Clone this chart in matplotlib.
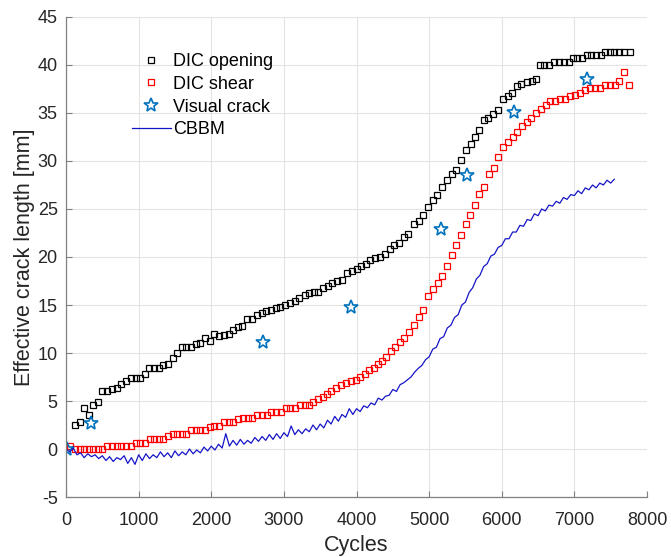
import numpy as np
import matplotlib.pyplot as plt
plt.switch_backend('agg')

plt.rcParams['font.family'] = ['Liberation Sans', 'DejaVu Sans']
plt.rcParams['axes.unicode_minus'] = False

# DIC crack opening measurements
open_cycles = [120, 189, 248, 317, 377, 446, 501, 565, 634, 698,
               763, 827, 891, 960, 1024, 1088, 1143, 1207, 1276, 1341,
               1405, 1470, 1529, 1594, 1658, 1727, 1786, 1850, 1915, 1979,
               2044, 2108, 2172, 2241, 2300, 2365, 2430, 2494, 2559, 2623,
               2692, 2760, 2825, 2889, 2953, 3017, 3082, 3150, 3215, 3284,
               3348, 3412, 3476, 3540, 3605, 3669, 3733, 3798, 3870, 3935,
               4000, 4064, 4128, 4192, 4257, 4321, 4394, 4458, 4522, 4587,
               4651, 4706, 4789, 4862, 4917, 4986, 5047, 5110, 5184, 5248,
               5317, 5377, 5437, 5506, 5570, 5630, 5689, 5758, 5813, 5882,
               5950, 6011, 6080, 6143, 6204, 6272, 6342, 6410, 6470, 6525,
               6580, 6645, 6722, 6786, 6855, 6924, 6975, 7040, 7108, 7168,
               7235, 7300, 7365, 7420, 7485, 7550, 7620, 7690, 7765]
open_len = [2.5, 2.8, 4.3, 3.5, 4.6, 4.9, 6.0, 6.0, 6.3, 6.4,
            6.8, 7.1, 7.4, 7.4, 7.4, 7.8, 8.4, 8.4, 8.4, 8.8,
            8.9, 9.5, 10.0, 10.6, 10.6, 10.6, 10.9, 11.0, 11.6, 11.3,
            12.0, 11.8, 11.9, 12.0, 12.4, 12.7, 12.8, 13.5, 13.5, 14.0,
            14.2, 14.4, 14.5, 14.7, 14.8, 15.0, 15.2, 15.4, 15.7, 16.0,
            16.2, 16.4, 16.4, 16.8, 17.0, 17.3, 17.5, 17.6, 18.3, 18.5,
            18.75, 19.1, 19.3, 19.7, 19.9, 20.0, 20.3, 20.8, 21.2, 21.5,
            22.1, 22.4, 23.4, 23.7, 24.4, 25.2, 25.9, 26.5, 27.3, 28.0,
            28.6, 29.1, 30.1, 31.1, 31.8, 32.5, 33.2, 34.3, 34.5, 34.9,
            35.3, 36.5, 36.8, 37.1, 37.8, 38.0, 38.2, 38.3, 38.5, 40.0,
            40.0, 40.0, 40.3, 40.3, 40.3, 40.3, 40.7, 40.7, 40.7, 41.0,
            41.0, 41.0, 41.0, 41.4, 41.4, 41.4, 41.4, 41.4, 41.4]

# DIC shear measurements
shear_cycles = [51, 120, 189, 253, 317, 377, 446, 501, 565, 634,
                698, 763, 827, 891, 960, 1024, 1088, 1153, 1212, 1276,
                1341, 1405, 1470, 1529, 1594, 1658, 1727, 1786, 1850, 1915,
                1979, 2044, 2108, 2172, 2241, 2300, 2365, 2438, 2500, 2565,
                2631, 2700, 2765, 2829, 2895, 2960, 3026, 3090, 3155, 3219,
                3285, 3350, 3402, 3471, 3535, 3600, 3655, 3724, 3793, 3862,
                3922, 3990, 4055, 4114, 4174, 4238, 4298, 4358, 4413, 4472,
                4537, 4596, 4651, 4720, 4789, 4858, 4917, 4986, 5055, 5124,
                5184, 5244, 5313, 5372, 5437, 5501, 5565, 5630, 5689, 5758,
                5818, 5887, 5950, 6019, 6080, 6149, 6212, 6281, 6342, 6400,
                6465, 6534, 6603, 6662, 6731, 6800, 6869, 6938, 7002, 7075,
                7144, 7213, 7282, 7350, 7420, 7488, 7557, 7617, 7681, 7750]
shear_len = [0.3, 0.0, 0.0, 0.0, 0.0, 0.0, 0.0, 0.0, 0.35, 0.35,
             0.35, 0.35, 0.35, 0.35, 0.6, 0.6, 0.6, 1.0, 1.0, 1.0,
             1.0, 1.4, 1.6, 1.6, 1.6, 1.6, 2.0, 2.0, 2.0, 2.0,
             2.3, 2.35, 2.35, 2.8, 2.8, 2.8, 3.1, 3.2, 3.2, 3.2,
             3.5, 3.5, 3.5, 3.9, 3.9, 3.9, 4.3, 4.3, 4.3, 4.6,
             4.6, 4.6, 4.9, 5.2, 5.4, 5.7, 6.0, 6.35, 6.7, 6.9,
             7.1, 7.2, 7.5, 7.8, 8.2, 8.4, 8.85, 9.2, 9.6, 10.2,
             10.6, 11.1, 11.6, 12.15, 12.9, 13.7, 14.5, 15.9, 16.7, 17.3,
             18.05, 19.1, 20.2, 21.25, 22.3, 23.4, 24.4, 25.45, 26.6, 27.25,
             28.6, 29.3, 30.4, 31.5, 32.0, 32.5, 33.05, 33.6, 34.1, 34.5,
             35.0, 35.4, 35.8, 36.2, 36.3, 36.5, 36.5, 36.8, 36.9, 37.1,
             37.4, 37.6, 37.6, 37.6, 37.9, 37.9, 37.9, 38.3, 39.3, 37.9]

# visual inspection
visual_cycles = [20, 341, 2713, 3931, 5170, 5515, 6167, 7177]
visual_len = [0.0, 2.7, 11.1, 14.8, 22.9, 28.5, 35.1, 38.5]

# CBBM prediction, sampled every 50 cycles
cbbm_cycles = np.arange(0, 7551, 50)
cbbm_len = [0.0, -0.3, 0.1, -0.6, -0.4, -0.9, -0.5, -0.8, -0.6, -1.0,
            -0.7, -1.2, -0.8, -1.3, -0.9, -1.1, -0.7, -1.5, -0.9, -1.6,
            -0.6, -1.2, -0.5, -1.0, -0.6, -0.9, -0.3, -0.8, -0.4, -0.9,
            -0.2, -0.7, -0.3, -0.6, 0.0, -0.5, -0.1, -0.4, 0.2, -0.2,
            0.3, -0.1, 0.5, 0.1, 1.6, 0.3, 0.9, 0.4, 1.0, 0.5,
            0.9, 0.6, 1.2, 0.8, 1.3, 0.9, 1.5, 1.0, 1.6, 1.1,
            1.7, 1.3, 2.4, 1.5, 2.0, 1.6, 2.1, 1.8, 2.5, 2.0,
            2.6, 2.2, 3.0, 2.6, 3.4, 2.9, 3.6, 3.3, 4.2, 3.6,
            4.2, 3.9, 4.5, 4.3, 4.8, 4.6, 5.3, 5.1, 5.5, 5.6,
            6.2, 6.0, 6.7, 6.9, 7.2, 7.5, 8.0, 8.4, 8.7, 9.3,
            9.6, 10.4, 10.6, 11.5, 11.7, 12.6, 12.9, 13.7, 14.0, 15.0,
            15.3, 16.3, 16.8, 17.7, 18.1, 19.0, 19.3, 20.1, 20.3, 21.0,
            21.2, 21.9, 21.9, 22.6, 22.6, 23.3, 23.2, 23.9, 23.8, 24.5,
            24.3, 25.0, 24.8, 25.4, 25.3, 25.8, 25.6, 26.2, 26.0, 26.5,
            26.4, 26.9, 26.6, 27.2, 27.0, 27.5, 27.2, 27.7, 27.5, 28.0,
            27.7, 28.1]

fig = plt.figure(figsize=(6.71, 5.57), dpi=100)
ax = fig.add_axes([0.0984, 0.1077, 0.8658, 0.8618])

ax.plot(open_cycles, open_len, 's', color='k', mfc='none', ms=4.5, mew=0.9,
        label='DIC opening')
ax.plot(shear_cycles, shear_len, 's', color='#ff0000', mfc='none', ms=4.5, mew=0.9,
        label='DIC shear')
ax.plot(visual_cycles, visual_len, '*', color='#0072bd', mfc='none', ms=10, mew=1.2,
        label='Visual crack')
ax.plot(cbbm_cycles, cbbm_len, '-', color='#1515c8', lw=0.9, label='CBBM')

ax.set_xlim(0, 8000)
ax.set_ylim(-5, 45)
ax.set_xticks(np.arange(0, 8001, 1000))
ax.set_yticks(np.arange(-5, 46, 5))
ax.grid(True, color='#e3e3e3', lw=0.8)
ax.set_axisbelow(True)
for s in ['top', 'right']:
    ax.spines[s].set_visible(False)
for s in ['left', 'bottom']:
    ax.spines[s].set_color('#808080')
    ax.spines[s].set_linewidth(0.9)
ax.tick_params(direction='in', length=4, color='#808080', labelsize=13,
               labelcolor='#262626', pad=6)
ax.tick_params(axis='x', pad=11)

ax.set_xlabel('Cycles', fontsize=15.5, color='#262626', labelpad=4)
ax.set_ylabel('Effective crack length [mm]', fontsize=15.5, color='#262626', labelpad=2)

ax.legend(loc='upper left', bbox_to_anchor=(0.1003, 0.94), frameon=False,
          fontsize=13, handlelength=2.2, handletextpad=0.1, labelspacing=0.32,
          borderaxespad=0)

fig.savefig('out.png', dpi=100)
